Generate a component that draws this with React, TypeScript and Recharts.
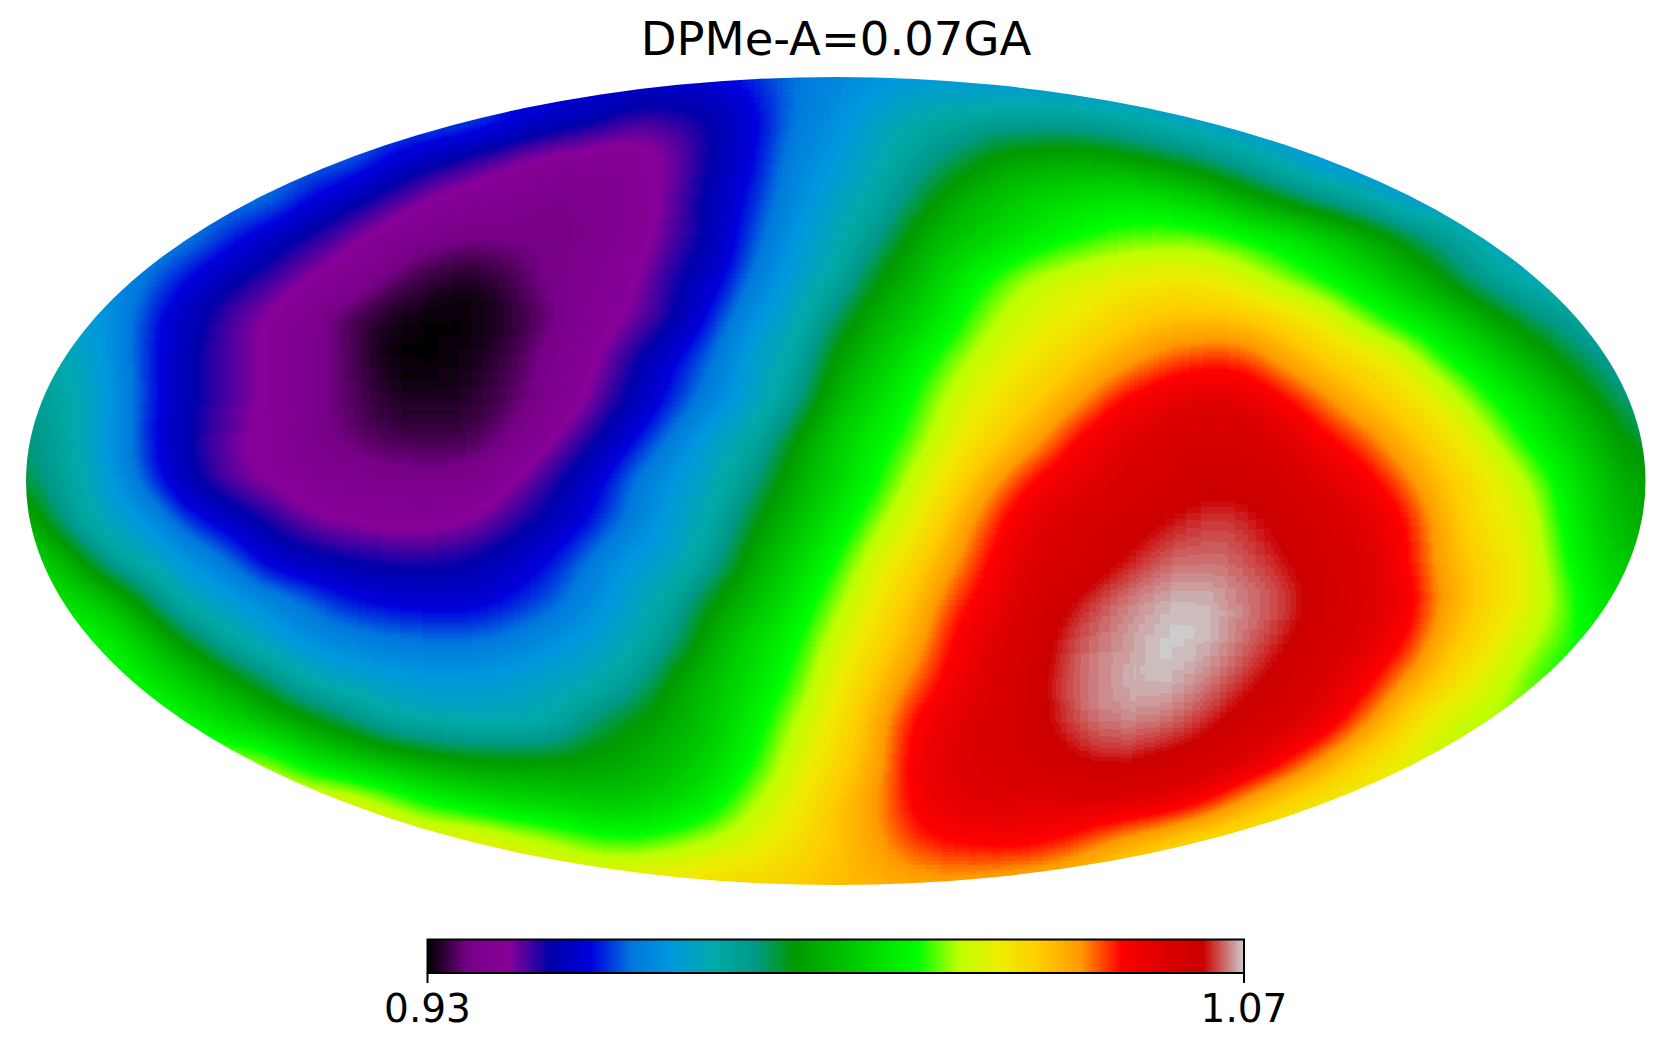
import React from 'react';
import { ScatterChart, Scatter, XAxis, YAxis, ReferenceArea } from 'recharts';

const TITLE = 'DPMe-A=0.07GA';
const RANGE = [0.93, 1.07];
const COLS = 41;

// Map values in thousandths: rows run top to bottom, columns left to right.
const row00 = [958,958,958,958,958,958,958,958,958,958,958,958,958,958,958,958,958,958,961,965,968,970,971,971,970,970,970,970,970,970,970,970,970,970,970,970,970,970,970,970,970];
const row01 = [966,966,966,966,966,966,966,966,966,966,966,965,960,956,953,948,948,951,957,965,970,975,979,981,982,982,981,979,976,973,970,970,970,970,970,970,970,970,970,970,970];
const row02 = [965,965,965,965,965,965,965,965,965,958,953,949,945,942,941,941,945,951,958,968,972,977,983,988,994,996,997,995,991,987,982,976,970,968,968,968,968,968,968,968,968];
const row03 = [966,966,966,966,966,966,966,959,953,948,944,941,940,938,939,941,946,953,960,969,975,980,989,997,1002,1005,1007,1009,1008,1004,997,991,985,980,973,970,970,970,970,970,970];
const row04 = [968,968,968,968,967,961,954,949,945,941,938,937,937,937,939,941,947,952,963,972,978,985,996,1002,1006,1010,1014,1017,1018,1018,1015,1011,1006,999,992,985,977,972,972,972,972];
const row05 = [970,970,970,965,958,952,948,944,941,936,933,931,934,938,940,943,950,955,966,974,980,992,1000,1009,1016,1022,1025,1028,1029,1029,1025,1019,1014,1008,1001,993,984,978,975,975,975];
const row06 = [975,975,972,961,953,947,943,939,934,931,930,930,932,936,941,945,950,961,971,977,988,998,1004,1013,1021,1026,1029,1033,1036,1037,1036,1033,1028,1019,1012,1006,998,990,984,978,978];
const row07 = [985,979,971,961,952,947,943,939,935,930,930,931,934,939,943,950,958,965,975,980,994,1002,1011,1019,1026,1030,1035,1039,1044,1047,1047,1041,1035,1031,1026,1015,1008,1000,992,985,980];
const row08 = [986,980,974,961,952,947,943,939,935,932,931,932,935,939,945,952,960,968,975,984,999,1007,1015,1024,1030,1035,1041,1049,1053,1056,1055,1050,1044,1037,1032,1026,1016,1009,1001,991,984];
const row09 = [988,981,972,960,951,946,942,938,936,934,934,934,937,944,950,958,967,975,981,993,1004,1011,1018,1028,1034,1041,1050,1055,1058,1060,1059,1057,1051,1046,1038,1032,1024,1014,1006,998,989];
const row10 = [990,982,974,962,952,946,943,941,940,939,938,939,944,949,956,965,972,977,986,997,1005,1013,1024,1032,1042,1050,1054,1057,1059,1061,1061,1060,1056,1052,1045,1036,1030,1022,1011,1001,994];
const row11 = [1000,984,976,972,961,955,950,945,943,942,942,944,948,952,959,966,974,980,992,1001,1009,1019,1028,1038,1048,1055,1058,1060,1063,1065,1065,1062,1059,1056,1050,1039,1030,1026,1013,1003,996];
const row12 = [1008,1000,984,977,972,965,956,953,951,950,950,951,954,959,966,973,975,984,997,1005,1014,1025,1033,1042,1051,1057,1059,1063,1066,1067,1066,1064,1060,1057,1051,1040,1033,1028,1015,1005,1000];
const row13 = [1012,1008,1003,990,977,974,969,964,959,957,956,956,959,963,969,975,982,993,1001,1009,1019,1029,1037,1047,1053,1059,1064,1067,1069,1070,1068,1066,1061,1057,1053,1042,1034,1028,1018,1008,1005];
const row14 = [1014,1014,1012,1003,992,981,975,970,968,966,965,965,967,970,974,978,986,998,1007,1013,1024,1032,1040,1051,1056,1061,1066,1068,1070,1070,1067,1064,1060,1056,1050,1038,1031,1023,1016,1010,1010];
const row15 = [1016,1016,1016,1010,1004,997,988,979,976,974,973,973,974,976,978,983,995,1002,1008,1016,1027,1036,1045,1052,1057,1062,1067,1069,1070,1068,1065,1061,1057,1052,1042,1034,1026,1018,1012,1012,1012];
const row16 = [1018,1018,1018,1018,1012,1007,1001,995,988,981,979,978,978,979,988,993,997,1003,1011,1021,1030,1039,1050,1055,1058,1062,1066,1068,1067,1065,1061,1058,1054,1044,1034,1024,1020,1018,1018,1018,1018];
const row17 = [1022,1022,1022,1022,1022,1022,1020,1010,1005,1001,997,995,994,994,995,997,1001,1006,1014,1025,1032,1040,1052,1056,1058,1060,1063,1064,1062,1060,1057,1050,1041,1032,1026,1022,1022,1022,1022,1022,1022];
const row18 = [1029,1029,1029,1029,1029,1029,1029,1029,1027,1021,1014,1010,1007,1005,1003,1003,1006,1011,1021,1028,1036,1042,1051,1055,1056,1055,1056,1056,1054,1050,1041,1033,1028,1026,1026,1026,1026,1026,1026,1026,1026];
const row19 = [1030,1030,1030,1030,1030,1030,1030,1030,1030,1030,1030,1030,1026,1022,1018,1016,1019,1023,1026,1031,1036,1041,1047,1049,1050,1050,1046,1040,1035,1029,1026,1026,1026,1026,1026,1026,1026,1026,1026,1026,1026];
const row20 = [1030,1030,1030,1030,1030,1030,1030,1030,1030,1030,1030,1030,1030,1030,1030,1032,1032,1033,1034,1035,1037,1038,1039,1040,1038,1036,1034,1030,1030,1030,1030,1030,1030,1030,1030,1030,1030,1030,1030,1030,1030];
const rows = [row00,row01,row02,row03,row04,row05,row06,row07,row08,row09,row10,row11,row12,row13,row14,row15,row16,row17,row18,row19,row20];

// The colour scale of the map (21 evenly spaced colours along the bar).
const stopColors = ['#000000','#770088','#880099','#0000aa','#0000dd','#0077dd','#0099dd','#00aaaa','#009988','#009900','#00bb00','#00dd00','#00ff00','#bbff00','#eeee00','#ffcc00','#ff9900','#ff0000','#dd0000','#cc0000','#cccccc'];
const barEnds = [{ v: RANGE[0], y: 0 }, { v: RANGE[1], y: 1 }];

const W = 1672;
const H = 1050;
const M = { left: 26, right: 26.5, top: 77, bottom: 165 };
const PW = W - M.left - M.right;
const PH = H - M.top - M.bottom;
const CW = PW / (COLS - 1);
const CH = PH / (rows.length - 1);

const cells = rows.flatMap((row, r) =>
  row.map((v, c) => ({ x: (c / (COLS - 1)) * 2 - 1, y: 1 - (r / (rows.length - 1)) * 2, value: v / 1000 }))
);

const channel = (start: number) =>
  stopColors.map((c) => (parseInt(c.slice(start, start + 2), 16) / 255).toFixed(4)).join(' ');

function grayOf(value: number) {
  const t = Math.max(0, Math.min(1, (value - RANGE[0]) / (RANGE[1] - RANGE[0])));
  const g = Math.round(t * 255);
  return `rgb(${g},${g},${g})`;
}

function Cell(props: any) {
  const { cx, cy, payload } = props;
  return <rect x={cx - CW / 2 - 0.5} y={cy - CH / 2 - 0.5} width={CW + 1} height={CH + 1} fill={grayOf(payload.value)} />;
}

const NoMark = () => <g />;

export default function App() {
  const font = '"DejaVu Sans", sans-serif';
  return (
    <div style={{ position: 'absolute', left: 0, top: 0, width: W, height: H, background: '#fff' }}>
      <style>{`.heatmap .recharts-scatter { filter: url(#heatBlur); clip-path: url(#heatClip); }`}</style>
      <div className="heatmap" style={{ position: 'absolute', left: 0, top: 0 }}>
        <ScatterChart width={W} height={H} margin={M}>
          <defs>
            <clipPath id="heatClip" clipPathUnits="userSpaceOnUse">
              <ellipse cx={M.left + PW / 2} cy={M.top + PH / 2} rx={PW / 2} ry={PH / 2} />
            </clipPath>
            <filter id="heatBlur" filterUnits="userSpaceOnUse" x={0} y={0} width={W} height={H} colorInterpolationFilters="sRGB">
              <feGaussianBlur stdDeviation={19} />
              <feComponentTransfer>
                <feFuncA type="discrete" tableValues="1 1" />
                <feFuncR type="table" tableValues={channel(1)} />
                <feFuncG type="table" tableValues={channel(3)} />
                <feFuncB type="table" tableValues={channel(5)} />
              </feComponentTransfer>
            </filter>
          </defs>
          <text x={836} y={55} textAnchor="middle" fontFamily={font} fontSize={46.5} fill="#000">{TITLE}</text>
          <XAxis type="number" dataKey="x" domain={[-1, 1]} hide />
          <YAxis type="number" dataKey="y" domain={[-1, 1]} hide />
          <Scatter data={cells} shape={Cell} isAnimationActive={false} />
        </ScatterChart>
      </div>
      <div style={{ position: 'absolute', left: 0, top: 900 }}>
        <ScatterChart width={W} height={150} margin={{ left: 427.5, right: 428, top: 39.5, bottom: 0 }}>
          <defs>
            <linearGradient id="barFill" x1="0" y1="0" x2="1" y2="0">
              {stopColors.map((c, i) => <stop key={i} offset={i / (stopColors.length - 1)} stopColor={c} />)}
            </linearGradient>
          </defs>
          <XAxis
            type="number"
            dataKey="v"
            domain={RANGE}
            ticks={RANGE}
            interval={0}
            height={77}
            axisLine={false}
            tickSize={10}
            tickMargin={11}
            tickLine={{ stroke: '#000', strokeWidth: 2 }}
            tick={{ fontSize: 39, fontFamily: font, fill: '#000' }}
            tickFormatter={(v: number) => v.toFixed(2)}
          />
          <YAxis type="number" dataKey="y" domain={[0, 1]} hide />
          <Scatter data={barEnds} shape={NoMark} isAnimationActive={false} />
          <ReferenceArea x1={RANGE[0]} x2={RANGE[1]} y1={0} y2={1} fill="url(#barFill)" fillOpacity={1} stroke="#000" strokeWidth={2} />
        </ScatterChart>
      </div>
    </div>
  );
}
